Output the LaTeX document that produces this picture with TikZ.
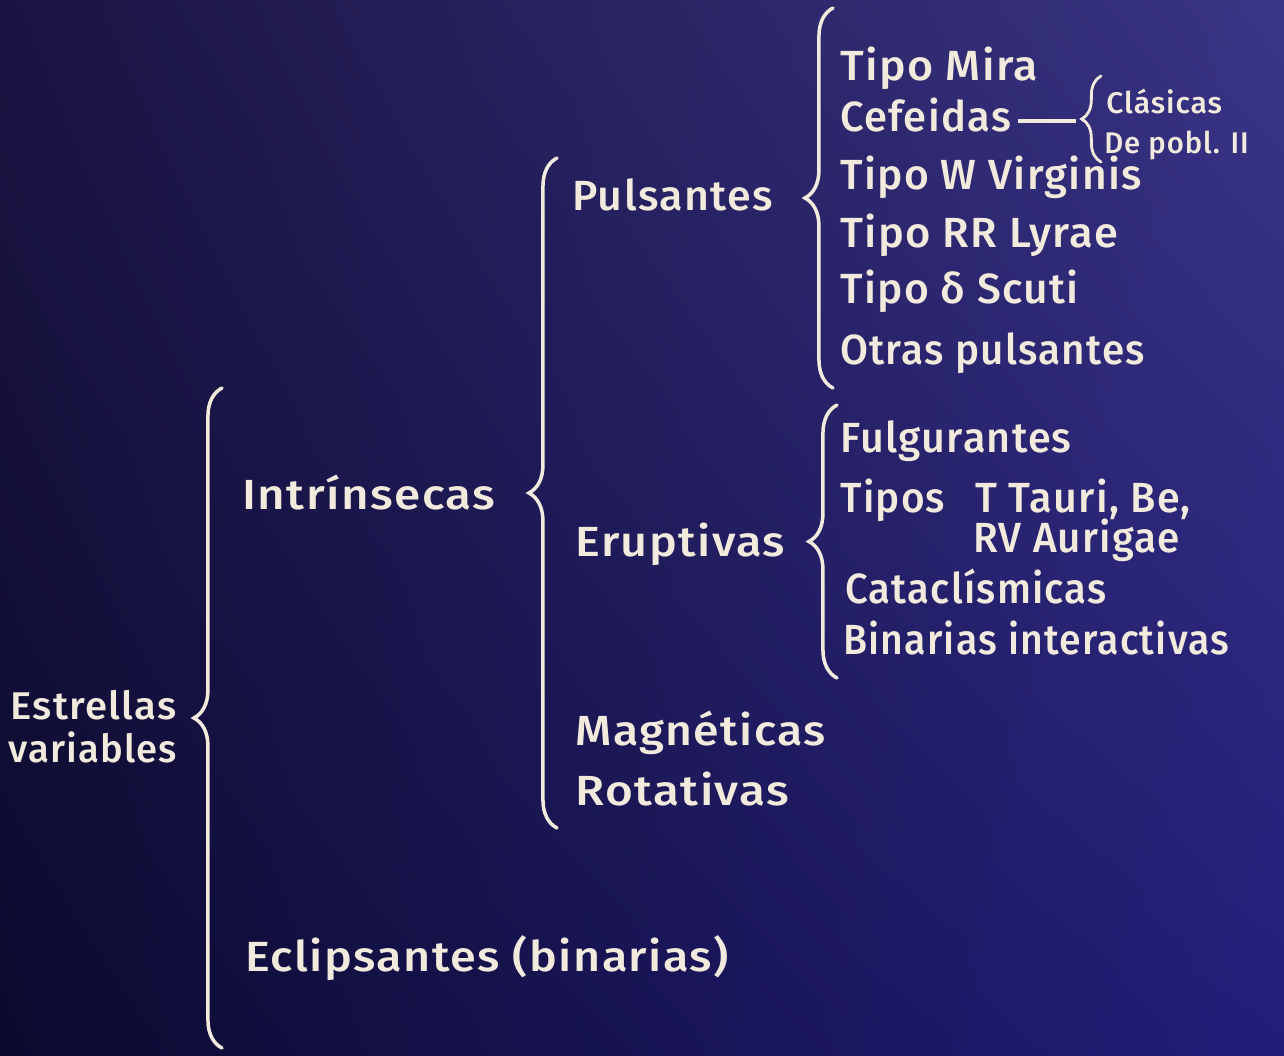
\documentclass[tikz,border=0pt]{standalone}
\usepackage{fontspec}
\setmainfont{Fira Sans Medium}[LetterSpace=3]
\usetikzlibrary{decorations.pathreplacing,shadings}
\definecolor{ink}{HTML}{F2EBDD}
\definecolor{bgUL}{HTML}{1A1442}
\definecolor{bgUR}{HTML}{3A3585}
\definecolor{bgLL}{HTML}{0B0A2E}
\definecolor{bgLR}{HTML}{231D7A}
\newcommand{\hsc}[2]{\scalebox{#1}[1]{#2}}
\begin{document}
\begin{tikzpicture}[x=0.02cm,y=-0.02cm,
  lbl/.style={text=ink, inner sep=0pt, anchor=mid west, font=\fontsize{24}{28}\selectfont},
  smalllbl/.style={text=ink, inner sep=0pt, anchor=mid west, font=\fontsize{17}{20}\selectfont},
  rootlbl/.style={text=ink, inner sep=0pt, anchor=mid west, font=\fontsize{22}{26}\selectfont},
  brc/.style={draw=ink, line width=2pt, line cap=round, decorate, decoration={brace, amplitude=16pt}},
  smallbrc/.style={draw=ink, line width=1.6pt, line cap=round, decorate, decoration={brace, amplitude=11pt}},
  dashline/.style={draw=ink, line width=1.8pt}]
\useasboundingbox (0,0) rectangle (1284,1055);
\shade[upper left=bgUL, upper right=bgUR, lower left=bgLL, lower right=bgLR] (0,0) rectangle (1284,1055);

% root
\node[rootlbl] (est) at (10,715) {\hsc{1.04}{Estrellas}};
\node[rootlbl] (var) at (8,758) {\hsc{0.99}{variables}};

% level 1
\draw[brc] (222,1048) -- (222,388);
\node[lbl] (intr) at (242,505) {\hsc{1.13}{Intrínsecas}};
\node[lbl] (ecl) at (245,967) {\hsc{1.11}{Eclipsantes (binarias)}};

% level 2
\draw[brc] (557,828) -- (557,158);
\node[lbl] (puls) at (572,206) {\hsc{1.02}{Pulsantes}};
\node[lbl] (erup) at (575,552) {\hsc{1.11}{Eruptivas}};
\node[lbl] (magn) at (575,741) {\hsc{1.10}{Magnéticas}};
\node[lbl] (rota) at (575,801) {\hsc{1.13}{Rotativas}};

% pulsantes
\draw[brc] (833,388) -- (833,8);
\node[lbl] (mira) at (840,76) {\hsc{1.06}{Tipo Mira}};
\node[lbl] (cef) at (840,127) {\hsc{0.99}{Cefeidas}};
\node[lbl] (wvir) at (840,185) {\hsc{1.01}{Tipo W Virginis}};
\node[lbl] (rrly) at (840,243) {\hsc{1.03}{Tipo RR Lyrae}};
\node[lbl] (dsct) at (840,299) {\hsc{1.01}{Tipo δ Scuti}};
\node[lbl] (otras) at (840,360) {\hsc{0.96}{Otras pulsantes}};

% cefeidas
\coordinate (cefb) at (1076,121);
\draw[smallbrc] (1101,162) -- (1101,76);
\draw[dashline] ([xshift=4pt]cef.mid east |- cefb) -- (cefb);
\node[smalllbl] (clas) at (1106,109) {\hsc{1.01}{Clásicas}};
\node[smalllbl] (pobl) at (1104,149) {\hsc{0.98}{De pobl. II}};

% eruptivas
\draw[brc] (837,678) -- (837,405);
\node[lbl] (fulg) at (840,448) {\hsc{0.98}{Fulgurantes}};
\node[lbl] (tipos) at (840,508) {\hsc{0.96}{Tipos}};
\node[lbl] (ttau) at (975,508) {\hsc{0.98}{T Tauri, Be,}};
\node[lbl] (rvau) at (973,548) {\hsc{0.96}{RV Aurigae}};
\node[lbl] (cata) at (845,599) {\hsc{0.95}{Cataclísmicas}};
\node[lbl] (bina) at (843,650) {\hsc{0.93}{Binarias interactivas}};
\end{tikzpicture}
\end{document}
